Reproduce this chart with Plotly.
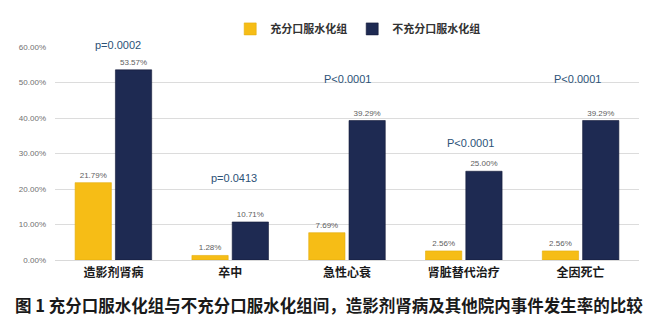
import plotly.graph_objects as go

categories = ["造影剂肾病", "卒中", "急性心衰", "肾脏替代治疗", "全因死亡"]
adequate = [21.79, 1.28, 7.69, 2.56, 2.56]        # 充分口服水化组 (%)
inadequate = [53.57, 10.71, 39.29, 25.00, 39.29]  # 不充分口服水化组 (%)
p_values = ["p=0.0002", "p=0.0413", "P<0.0001", "P<0.0001", "P<0.0001"]
tick_vals = [0, 10, 20, 30, 40, 50, 60]

YELLOW = "#F6BD16"
NAVY = "#1E2A52"
CJK = "Noto Sans CJK SC"

fig = go.Figure()
fig.add_trace(go.Bar(
    name="<b>充分口服水化组</b>", x=categories, y=adequate,
    marker=dict(color=YELLOW, line=dict(color="#E3AC0C", width=0.6)),
    text=[f"{v:.2f}%" for v in adequate], textposition="outside",
    textfont=dict(size=8, color="#606060", family="Liberation Sans"),
    cliponaxis=False,
))
fig.add_trace(go.Bar(
    name="<b>不充分口服水化组</b>", x=categories, y=inadequate,
    marker=dict(color=NAVY, line=dict(color="#121a38", width=0.6)),
    text=[f"{v:.2f}%" for v in inadequate], textposition="outside",
    textfont=dict(size=8, color="#606060", family="Liberation Sans"),
    cliponaxis=False,
))

# p-value labels above each group (x in category units, y as fraction of plot height)
p_pos = [(0.04, 1.047), (1.03, 0.385), (2.0, 0.887), (3.06, 0.549), (3.97, 0.887)]
for txt, (px, py) in zip(p_values, p_pos):
    fig.add_annotation(x=px, y=py, xref="x", yref="paper", text=txt, showarrow=False,
                       font=dict(size=11, color="#2C5277", family="Liberation Sans"))

fig.add_annotation(
    x=0.47, y=-0.211, xref="paper", yref="paper", xanchor="center", yanchor="middle",
    text="<b>图 1 充分口服水化组与不充分口服水化组间，造影剂肾病及其他院内事件发生率的比较</b>",
    showarrow=False, font=dict(size=16.5, color="#1a1a1a", family=CJK),
)

fig.update_layout(
    width=658, height=333,
    margin=dict(l=55, r=19, t=47, b=73),
    paper_bgcolor="white", plot_bgcolor="white",
    barmode="group", bargap=0.31, bargroupgap=0.1,
    font=dict(family=CJK),
    legend=dict(orientation="h", x=0.3, xanchor="left", y=1.085, yanchor="middle",
                font=dict(size=11, color="#333333", family=CJK),
                itemwidth=30, traceorder="normal"),
    showlegend=True,
)
fig.update_xaxes(
    showgrid=False, showline=True, linecolor="#d9d9d9", linewidth=1,
    tickfont=dict(size=12, color="#1a1a1a", family=CJK),
    ticks="", ticklabelstandoff=2,
    ticktext=[f"<b>{c}</b>" for c in categories], tickvals=categories,
)
fig.update_yaxes(
    range=[0, 60], tickvals=tick_vals, ticktext=[f"{v:.2f}%" for v in tick_vals],
    showgrid=True, gridcolor="#dcdcdc", gridwidth=1, zeroline=False,
    tickfont=dict(size=8, color="#707070", family="Liberation Sans"),
    ticklabelstandoff=8,
)

fig.write_html("out.html")
